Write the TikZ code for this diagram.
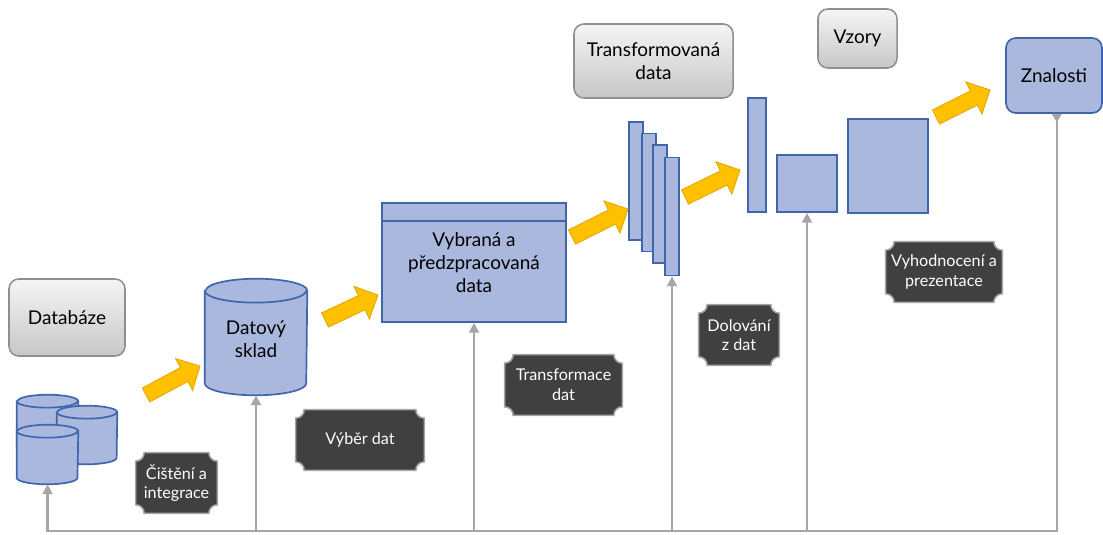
\documentclass[tikz,border=0pt]{standalone}
\usepackage{fontspec}
\setmainfont{Lato}
\usetikzlibrary{calc, shapes.geometric, arrows.meta, backgrounds}

\definecolor{modra}{HTML}{AAB8DE}
\definecolor{modraokraj}{HTML}{3F65AE}
\definecolor{zluta}{HTML}{FFC000}
\definecolor{zlutaokraj}{HTML}{E3A900}
\definecolor{tmava}{HTML}{404040}
\definecolor{seda}{HTML}{A6A6A6}
\definecolor{sedaokraj}{HTML}{8F8F8F}

\tikzset{
  blok/.style={draw=modraokraj, fill=modra, line width=1.2pt, inner sep=0pt,
    font=\fontsize{13.5}{16.5}\selectfont, align=center},
  titulek/.style={draw=sedaokraj, line width=1.1pt, rounded corners=7pt,
    top color=white!96!black, bottom color=black!22,
    font=\fontsize{13.5}{16.5}\selectfont, align=center, inner sep=0pt},
  stitek/.style={text=white, font=\fontsize{11.5}{14}\selectfont,
    align=center, inner sep=0pt, minimum height=1.5cm},
  zpetna/.style={draw=seda, line width=1.6pt},
  sipka/.style={fill=zluta, draw=zlutaokraj, line width=0.6pt,
    to path={
      ($(\tikztostart)!5.6pt!90:(\tikztotarget)$)
      -- ($($(\tikztotarget)!12.8pt!(\tikztostart)$)!5.6pt!90:(\tikztotarget)$)
      -- ($($(\tikztotarget)!12.8pt!(\tikztostart)$)!12.8pt!90:(\tikztotarget)$)
      -- (\tikztotarget)
      -- ($($(\tikztotarget)!12.8pt!(\tikztostart)$)!12.8pt!-90:(\tikztotarget)$)
      -- ($($(\tikztotarget)!12.8pt!(\tikztostart)$)!5.6pt!-90:(\tikztotarget)$)
      -- ($(\tikztostart)!5.6pt!-90:(\tikztotarget)$) -- cycle}}
}

% valec kolem uzlu: #1 jmeno, #2 polomer x, #3 polomer y
\newcommand{\valec}[3]{
  \filldraw[blok] ([yshift=-#3]#1.north west) -- ([yshift=#3]#1.south west)
    arc[start angle=180, end angle=360, x radius=#2, y radius=#3]
    -- ([yshift=-#3]#1.north east)
    arc[start angle=0, end angle=180, x radius=#2, y radius=#3] -- cycle;
  \draw[blok] ([yshift=-#3]#1.north west)
    arc[start angle=180, end angle=360, x radius=#2, y radius=#3];
}

\begin{document}
\begin{tikzpicture}[x=0.025cm, y=-0.025cm]
\useasboundingbox (0,0) rectangle (1103,534);
% Titulky
\node[titulek, minimum width=2.9cm, minimum height=1.925cm] (tdb) at (67,317.5) {Databáze};
\node[titulek, minimum width=3.975cm, minimum height=1.85cm] (ttr) at (653.5,61) {Transformovaná\\data};
\node[titulek, minimum width=1.975cm, minimum height=1.475cm] (tvz) at (857.5,38.5) {Vzory};
% Databaze
\node[minimum width=1.525cm, minimum height=1.45cm, inner sep=0pt] (db1) at (47.5,424) {};
\node[minimum width=1.5cm, minimum height=1.45cm, inner sep=0pt] (db2) at (87,435) {};
\node[minimum width=1.525cm, minimum height=1.475cm, inner sep=0pt] (db3) at (47.5,454.5) {};
\valec{db1}{21.6pt}{4.6pt}
\valec{db2}{21.3pt}{4.6pt}
\valec{db3}{21.6pt}{4.6pt}
% Datovy sklad
\node[minimum width=2.55cm, minimum height=2.9cm, inner sep=0pt] (sklad) at (256,337) {};
\valec{sklad}{36.1pt}{8.5pt}
\node[blok, draw=none, fill=none] (skladtext) at (256,339) {Datový\\sklad};
% Vybrana data
\node[blok, minimum width=4.6cm, minimum height=2.975cm] (vyb) at (474,262.5) {Vybraná a\\předzpracovaná\\data};
\draw[blok] ([yshift=-13.5pt]vyb.north west) -- ([yshift=-13.5pt]vyb.north east);
% Transformovana data
\foreach \i/\x/\y in {1/636/181, 2/649/192.5, 3/660/204, 4/672/216.5}
  \node[blok, minimum width=0.35cm, minimum height=2.95cm] (r\i) at (\x,\y) {};
% Vzory
\node[blok, minimum width=0.45cm, minimum height=2.85cm] (uzky) at (757,155) {};
\node[blok, minimum width=1.5cm, minimum height=1.425cm] (ctverec) at (807,183.5) {};
\node[blok, minimum width=2cm, minimum height=2.35cm] (velky) at (888,166) {};
% Znalosti
\node[blok, rounded corners=7pt, minimum width=2.4cm, minimum height=1.875cm] (znal) at (1054,75.5) {Znalosti};
% Sipky
\coordinate (s1a) at (146,395); \coordinate (s1b) at (200,366);
\coordinate (s2a) at (325,320); \coordinate (s2b) at (378,295);
\coordinate (s3a) at (572,237); \coordinate (s3b) at (628,209);
\coordinate (s4a) at (685,197); \coordinate (s4b) at (740,170);
\coordinate (s5a) at (936,117); \coordinate (s5b) at (990,90);
\foreach \i in {1,...,5}
  \draw[sipka] (s\i a) to (s\i b);
% Stitky
\node[stitek, minimum width=2.025cm] (cisteni) at (176.5,483) {Čištění a\\integrace};
\node[stitek, minimum width=3.2cm] (vyber) at (360,440) {Výběr dat};
\node[stitek, minimum width=2.925cm] (transf) at (563.5,385) {Transformace\\dat};
\node[stitek, minimum width=2cm] (dolovani) at (739,335) {Dolování\\z dat};
\node[stitek, minimum width=2.9cm] (vyhodn) at (944,272) {Vyhodnocení a\\prezentace};
\begin{scope}[on background layer]
\foreach \n in {cisteni, vyber, transf, dolovani, vyhodn}
  \draw[fill=tmava, draw=seda, line width=1.1pt]
    ([xshift=6pt]\n.north west) -- ([xshift=-6pt]\n.north east)
    arc[start angle=180, end angle=270, radius=6pt]
    -- ([yshift=6pt]\n.south east) arc[start angle=90, end angle=180, radius=6pt]
    -- ([xshift=6pt]\n.south west) arc[start angle=0, end angle=90, radius=6pt]
    -- ([yshift=-6pt]\n.north west) arc[start angle=270, end angle=360, radius=6pt]
    -- cycle;
\end{scope}
% Zpetna vazba
\coordinate (dno) at (0,531);
\draw[zpetna, {Triangle[reversed, width=7pt, length=6pt]}-{Triangle[width=7pt, length=7pt]}]
  ([xshift=2pt]znal.south) -- ([xshift=2pt]znal.south |- dno) -| (db3.south);
\foreach \n in {sklad, vyb, r4, ctverec}
  \draw[zpetna, -{Triangle[width=7pt, length=7pt]}] (\n.south |- dno) -- (\n.south);
\end{tikzpicture}
\end{document}
